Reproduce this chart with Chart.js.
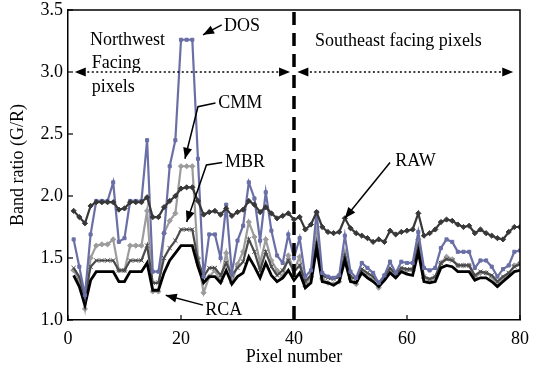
<!DOCTYPE html>
<html><head><meta charset="utf-8">
<script src="https://cdn.jsdelivr.net/npm/chart.js@4.4.1/dist/chart.umd.min.js"></script>
<style>html,body{margin:0;padding:0;background:#fff}#w{width:537px;height:372px}</style>
</head><body><div id="w"><canvas id="c" width="537" height="372"></canvas></div>
<script>
const pixelNumber = [1,2,3,4,5,6,7,8,9,10,11,12,13,14,15,16,17,18,19,20,21,22,23,24,25,26,27,28,29,30,31,32,33,34,35,36,37,38,39,40,41,42,43,44,45,46,47,48,49,50,51,52,53,54,55,56,57,58,59,60,61,62,63,64,65,66,67,68,69,70,71,72,73,74,75,76,77,78,79,80];

const rawRatio = [1.88,1.83,1.78,1.92,1.95,1.95,1.95,1.95,1.89,1.90,1.95,1.95,1.95,1.99,1.83,1.83,1.91,1.96,2.00,2.06,2.07,2.07,1.96,1.85,1.87,1.88,1.85,1.90,1.84,1.87,1.89,1.96,1.93,1.87,1.91,1.86,1.82,1.84,1.86,1.81,1.83,1.73,1.77,1.87,1.75,1.71,1.70,1.71,1.82,1.74,1.70,1.68,1.66,1.63,1.65,1.63,1.72,1.69,1.71,1.72,1.73,1.86,1.68,1.70,1.73,1.79,1.81,1.80,1.77,1.75,1.76,1.70,1.73,1.70,1.68,1.66,1.65,1.71,1.75,1.75];

const dosRatio = [1.65,1.43,1.20,1.69,1.96,1.96,1.96,2.11,1.63,1.66,1.96,1.96,1.96,2.45,1.39,1.39,1.70,2.24,2.45,3.26,3.26,3.26,2.30,1.35,1.69,1.69,1.50,1.93,1.38,1.64,1.76,2.11,1.98,1.64,2.03,1.72,1.52,1.46,1.69,1.50,1.66,1.35,1.40,1.87,1.38,1.35,1.34,1.36,1.68,1.39,1.34,1.46,1.42,1.38,1.30,1.36,1.47,1.38,1.47,1.46,1.46,1.71,1.42,1.40,1.42,1.58,1.65,1.63,1.55,1.55,1.55,1.42,1.48,1.48,1.43,1.35,1.41,1.44,1.55,1.56];

const cmmRatio = [1.40,1.32,1.09,1.50,1.60,1.61,1.61,1.65,1.40,1.40,1.60,1.60,1.60,1.88,1.23,1.23,1.70,1.80,1.86,2.24,2.24,2.24,1.50,1.22,1.35,1.40,1.31,1.54,1.30,1.45,1.55,1.79,1.67,1.46,1.65,1.48,1.40,1.35,1.52,1.40,1.51,1.27,1.35,1.70,1.33,1.30,1.29,1.31,1.55,1.33,1.29,1.40,1.36,1.32,1.26,1.33,1.40,1.35,1.41,1.40,1.40,1.65,1.34,1.32,1.34,1.46,1.51,1.49,1.44,1.44,1.44,1.34,1.38,1.38,1.35,1.28,1.34,1.37,1.44,1.46];

const mbrRatio = [1.42,1.35,1.19,1.43,1.48,1.48,1.48,1.48,1.40,1.40,1.48,1.48,1.48,1.60,1.30,1.30,1.50,1.58,1.64,1.73,1.73,1.73,1.48,1.35,1.42,1.42,1.36,1.46,1.36,1.42,1.47,1.65,1.55,1.40,1.55,1.43,1.36,1.40,1.48,1.39,1.44,1.31,1.36,1.62,1.36,1.34,1.33,1.35,1.52,1.35,1.33,1.41,1.38,1.35,1.30,1.35,1.42,1.37,1.42,1.41,1.41,1.60,1.35,1.33,1.35,1.46,1.49,1.48,1.44,1.44,1.44,1.36,1.39,1.38,1.36,1.31,1.35,1.38,1.43,1.45];

const rcaRatio = [1.36,1.27,1.12,1.32,1.39,1.39,1.39,1.39,1.31,1.31,1.39,1.39,1.39,1.46,1.24,1.24,1.38,1.48,1.54,1.60,1.60,1.60,1.43,1.30,1.35,1.35,1.30,1.40,1.29,1.35,1.38,1.51,1.43,1.34,1.46,1.36,1.31,1.34,1.40,1.32,1.38,1.26,1.30,1.58,1.31,1.30,1.28,1.31,1.48,1.31,1.30,1.38,1.34,1.31,1.27,1.32,1.38,1.34,1.39,1.37,1.36,1.55,1.31,1.30,1.31,1.42,1.44,1.43,1.39,1.39,1.39,1.32,1.34,1.34,1.31,1.27,1.31,1.35,1.39,1.40];

const xTicks = [0, 20, 40, 60, 80];
const yTicks = [1.0, 1.5, 2.0, 2.5, 3.0, 3.5];
const dividerAt = 40;
const regionLineY = 3.0;

const FONT = '"Liberation Serif", "Times New Roman", serif';
Chart.defaults.font.family = FONT;
Chart.defaults.font.size = 18;
Chart.defaults.color = '#000';

function series(label, arr, color, style, radius, width) {
  return {
    label,
    data: pixelNumber.map((x, k) => ({ x, y: arr[k] })),
    borderColor: color, backgroundColor: color,
    borderWidth: width, pointStyle: style, pointRadius: radius,
    pointBorderWidth: 1, pointHoverRadius: radius, tension: 0
  };
}

function arrowHead(ctx, fx, fy, tx, ty, len, half) {
  const ang = Math.atan2(ty - fy, tx - fx);
  ctx.beginPath();
  ctx.moveTo(tx, ty);
  ctx.lineTo(tx - len * Math.cos(ang) + half * Math.sin(ang), ty - len * Math.sin(ang) - half * Math.cos(ang));
  ctx.lineTo(tx - len * Math.cos(ang) - half * Math.sin(ang), ty - len * Math.sin(ang) + half * Math.cos(ang));
  ctx.closePath();
  ctx.fill();
}

const annot = {
  id: 'annot',
  afterDraw(chart) {
    const { ctx, chartArea: a, scales: { x, y } } = chart;
    const X = v => x.getPixelForValue(v), Y = v => y.getPixelForValue(v);
    ctx.save();
    ctx.strokeStyle = '#000'; ctx.fillStyle = '#000';
    ctx.lineWidth = 1.5;
    ctx.beginPath(); ctx.moveTo(a.left, a.top); ctx.lineTo(a.right, a.top); ctx.lineTo(a.right, a.bottom); ctx.stroke();
    ctx.lineWidth = 1.2;
    xTicks.forEach(v => { ctx.beginPath(); ctx.moveTo(X(v), a.bottom); ctx.lineTo(X(v), a.bottom - 5); ctx.stroke(); });
    yTicks.forEach(v => { ctx.beginPath(); ctx.moveTo(a.left, Y(v)); ctx.lineTo(a.left + 5, Y(v)); ctx.stroke(); });
    ctx.setLineDash([13, 8]); ctx.lineWidth = 3.5;
    ctx.beginPath(); ctx.moveTo(X(dividerAt), a.top + 2); ctx.lineTo(X(dividerAt), a.bottom); ctx.stroke();
    ctx.setLineDash([2, 2.5]); ctx.lineWidth = 1.5;
    const yy = Y(regionLineY);
    const segs = [[X(1.2), X(39.3)], [X(40.6), X(78.8)]];
    segs.forEach(([l, r]) => {
      ctx.beginPath(); ctx.moveTo(l + 8, yy); ctx.lineTo(r - 8, yy); ctx.stroke();
    });
    ctx.setLineDash([]);
    segs.forEach(([l, r]) => {
      arrowHead(ctx, l + 20, yy, l, yy, 11, 4.5);
      arrowHead(ctx, r - 20, yy, r, yy, 11, 4.5);
    });
    ctx.font = '18px ' + FONT;
    ctx.textAlign = 'left'; ctx.textBaseline = 'alphabetic';
    ctx.fillText('Northwest', X(3.9), Y(3.22));
    ctx.fillText('Facing', X(4.2), Y(3.03));
    ctx.fillText('pixels', X(4.2), Y(2.84));
    ctx.fillText('Southeast facing pixels', X(43.7), Y(3.21));
    ctx.fillText('DOS', X(27.6), Y(3.33));
    ctx.fillText('CMM', X(26.6), Y(2.71));
    ctx.fillText('MBR', X(27.8), Y(2.23));
    ctx.fillText('RAW', X(57.9), Y(2.24));
    ctx.fillText('RCA', X(24.3), Y(1.04));
    ctx.lineWidth = 1.5;
    const pointers = [
      [[27.2, 3.38], [23.9, 3.30]],
      [[26.1, 2.75], [23.0, 2.72], [20.7, 2.30]],
      [[27.3, 2.27], [24.5, 2.25], [21.0, 1.79]],
      [[57.0, 2.27], [49.0, 1.82]],
      [[23.9, 1.12], [17.3, 1.20]]
    ];
    pointers.forEach(pts => {
      const p = pts.map(([u, v]) => [X(u), Y(v)]);
      ctx.beginPath(); ctx.moveTo(p[0][0], p[0][1]);
      for (let i = 1; i < p.length; i++) ctx.lineTo(p[i][0], p[i][1]);
      ctx.stroke();
      const n = p.length;
      arrowHead(ctx, p[n - 2][0], p[n - 2][1], p[n - 1][0], p[n - 1][1], 11, 4.5);
    });
    ctx.restore();
  }
};

new Chart(document.getElementById('c'), {
  type: 'line',
  data: {
    datasets: [
      series('RAW', rawRatio, '#383838', 'rectRot', 2.6, 2.2),
      series('DOS', dosRatio, '#6a6fa6', 'rect', 2.2, 2.2),
      series('RCA', rcaRatio, '#000000', 'circle', 0, 2.8),
      series('MBR', mbrRatio, '#4a4a4a', 'crossRot', 3, 2.2),
      series('CMM', cmmRatio, '#9c9c9c', 'rectRot', 2.6, 2.2)
    ]
  },
  options: {
    responsive: false, animation: false, devicePixelRatio: 1,
    layout: { padding: { left: 0, right: 17, top: 10, bottom: 0 } },
    plugins: { legend: { display: false }, tooltip: { enabled: false } },
    scales: {
      x: {
        type: 'linear', min: 0, max: 80,
        afterBuildTicks: s => { s.ticks = xTicks.map(v => ({ value: v })); },
        grid: { display: false, drawTicks: false },
        border: { display: true, color: '#000', width: 1.5 },
        ticks: { padding: 8, maxRotation: 0, autoSkip: false, color: '#000' },
        title: { display: true, text: 'Pixel number', padding: { top: 0, bottom: 4 }, color: '#000' },
        afterFit: s => { s.height = 52; s.paddingLeft = 0; s.paddingRight = 0; }
      },
      y: {
        min: 1, max: 3.5,
        afterBuildTicks: s => { s.ticks = yTicks.map(v => ({ value: v })); },
        grid: { display: false, drawTicks: false },
        border: { display: true, color: '#000', width: 1.5 },
        ticks: { padding: 5, color: '#000', callback: v => Number(v).toFixed(1) },
        title: { display: true, text: 'Band ratio (G/R)', padding: { top: 7, bottom: 0 }, color: '#000' },
        afterFit: s => { s.width = 68; s.paddingTop = 0; s.paddingBottom = 0; }
      }
    }
  },
  plugins: [annot]
});
</script>
</body></html>
